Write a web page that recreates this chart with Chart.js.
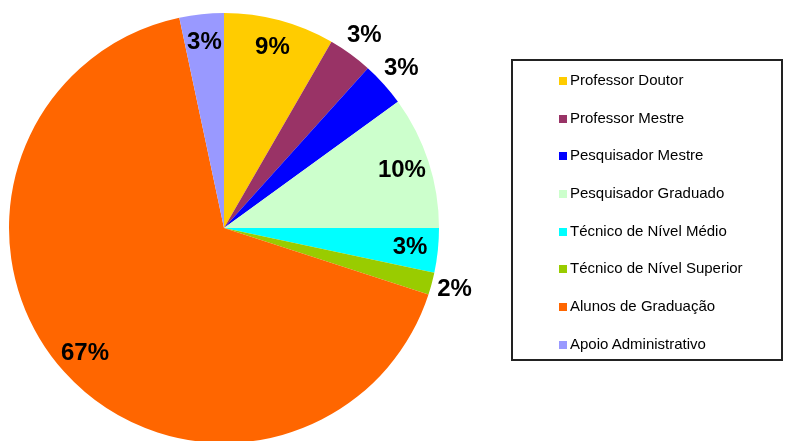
<!DOCTYPE html>
<html>
<head>
<meta charset="utf-8">
<script src="https://cdn.jsdelivr.net/npm/chart.js@4.4.0/dist/chart.umd.min.js"></script>
<style>
  html, body { margin: 0; padding: 0; background: #fff; overflow: hidden; }
  #wrap { position: relative; width: 785px; height: 441px; overflow: hidden; }
  #pie { position: absolute; left: 0; top: 0; }
  #legend {
    position: absolute; left: 511px; top: 59px; width: 268px; height: 298px;
    border: 2px solid #222; margin: 0; padding: 0; list-style: none;
    font-family: "Liberation Sans", Arial, sans-serif; font-size: 15px; color: #000;
  }
  #legend li { height: 37.7px; line-height: 37.7px; padding-left: 46px; white-space: nowrap; }
  #legend span.box { display: inline-block; width: 8px; height: 8px; margin-right: 3px; vertical-align: 0px; }
</style>
</head>
<body>
<div id="wrap">
  <canvas id="pie" width="785" height="460"></canvas>
  <ul id="legend"></ul>
</div>
<script>
// categorias e valores
var categories = [
  'Professor Doutor',
  'Professor Mestre',
  'Pesquisador Mestre',
  'Pesquisador Graduado',
  'Técnico de Nível Médio',
  'Técnico de Nível Superior',
  'Alunos de Graduação',
  'Apoio Administrativo',
];
var values = [5, 2, 2, 6, 2, 1, 40, 2];
var percentLabels = ['9%', '3%', '3%', '10%', '3%', '2%', '67%', '3%'];
var colors = ['#FFCC00', '#993366', '#0000FF', '#CCFFCC', '#00FFFF', '#99CC00', '#FF6600', '#9999FF'];

// rótulos que ficam fora da fatia
var outsideIdx = [1, 2, 5];

// legenda em HTML
var legend = document.getElementById('legend');
categories.forEach(function (name, i) {
  var li = document.createElement('li');
  li.innerHTML = '<span class="box" style="background:' + colors[i] + '"></span>' + name;
  legend.appendChild(li);
});

// plugin para os percentuais
var pctPlugin = {
  id: 'pct',
  afterDatasetsDraw: function (chart) {
    var ctx = chart.ctx;
    var meta = chart.getDatasetMeta(0);
    ctx.save();
    ctx.font = 'bold 24px "Liberation Sans", Arial, sans-serif';
    ctx.fillStyle = '#000';
    ctx.textAlign = 'center';
    ctx.textBaseline = 'middle';
    meta.data.forEach(function (arc, i) {
      var p = arc.getProps(['x', 'y', 'startAngle', 'endAngle', 'outerRadius'], true);
      var mid = (p.startAngle + p.endAngle) / 2;
      var f = outsideIdx.indexOf(i) >= 0 ? 1.11 : 0.87;
      ctx.fillText(percentLabels[i], p.x + Math.cos(mid) * p.outerRadius * f, p.y + Math.sin(mid) * p.outerRadius * f);
    });
    ctx.restore();
  },
};

var ctx = document.getElementById('pie').getContext('2d');
var pieChart = new Chart(ctx, {
  type: 'pie',
  data: {
    labels: categories,
    datasets: [
      {
        data: values,
        backgroundColor: colors,
        borderWidth: 0,
      },
    ],
  },
  options: {
    responsive: false,
    animation: false,
    layout: {
      padding: { left: 9, right: 346, top: 13, bottom: 17 },
    },
    plugins: {
      legend: { display: false },
      tooltip: { enabled: false },
    },
  },
  plugins: [pctPlugin],
});
</script>
</body>
</html>
